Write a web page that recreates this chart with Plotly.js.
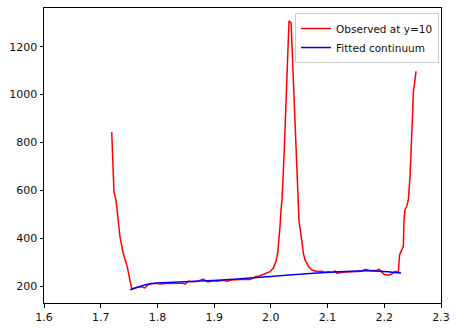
<!DOCTYPE html>
<html>
<head>
<meta charset="utf-8">
<script src="https://cdn.plot.ly/plotly-3.0.1.min.js"></script>
<style>html,body{margin:0;padding:0;background:#fff;}#chart{width:457px;height:329px;}</style>
</head>
<body>
<div id="chart"></div>
<script>
const obsWavelength = [1.7194,1.7234,1.7270,1.7340,1.7398,1.7469,1.7547,1.7605,1.7658,1.7728,1.7781,1.7834,1.7904,1.7975,1.8045,1.8134,1.8222,1.8340,1.8433,1.8486,1.8545,1.8627,1.8716,1.8804,1.8892,1.8980,1.9068,1.9156,1.9227,1.9297,1.9386,1.9456,1.9544,1.9633,1.9721,1.9809,1.9897,1.9985,2.0043,2.0091,2.0121,2.0144,2.0162,2.0179,2.0197,2.0232,2.0267,2.0294,2.0320,2.0356,2.0391,2.0426,2.0461,2.0497,2.0544,2.0572,2.0602,2.0661,2.0720,2.0809,2.0897,2.0955,2.1013,2.1096,2.1131,2.1161,2.1273,2.1396,2.1502,2.1602,2.1660,2.1749,2.1867,2.1907,2.1955,2.2001,2.2071,2.2131,2.2189,2.2248,2.2269,2.2307,2.2336,2.2348,2.2366,2.2396,2.2424,2.2454,2.2484,2.2502,2.2512,2.2560];
const obsFlux = [844,593,558,405,336,279,188,192,196,196,192,205,210,211,208,210,210,209,212,208,220,218,220,229,217,222,220,224,220,225,226,229,228,227,238,243,251,260,275,303,338,394,449,519,561,740,950,1150,1308,1300,1100,850,640,470,394,338,310,282,268,261,262,258,260,257,263,254,258,260,261,262,270,265,265,270,258,248,245,250,261,258,330,352,366,477,519,533,561,658,798,938,1008,1097];
const fitWavelength = [1.7517,1.7690,1.7870,1.8045,1.8400,1.8750,1.9200,1.9630,2.0000,2.0510,2.0990,2.1520,2.1925,2.2296];
const fitFlux = [184,198,209,214,217,221,226,233,240,249,257,263,262,254];
const xTicks = [1.6,1.7,1.8,1.9,2.0,2.1,2.2,2.3];
const yTicks = [200,400,600,800,1000,1200];

const traces = [
  {x: obsWavelength, y: obsFlux, type: 'scatter', mode: 'lines', name: 'Observed at y=10',
   line: {color: '#ff0000', width: 1.5}},
  {x: fitWavelength, y: fitFlux, type: 'scatter', mode: 'lines', name: 'Fitted continuum',
   line: {color: '#0000ff', width: 1.5, shape: 'spline', smoothing: 0.8}}
];

const axisCommon = {
  showline: true, mirror: true, linecolor: '#000', linewidth: 1,
  ticks: 'outside', ticklen: 3.5, tickwidth: 1, tickcolor: '#000',
  showgrid: false, zeroline: false,
  tickfont: {family: 'DejaVu Sans', size: 11, color: '#111'}
};

const layout = {
  width: 457, height: 329,
  margin: {l: 44, r: 16, t: 8, b: 26},
  paper_bgcolor: '#fff', plot_bgcolor: '#fff',
  font: {family: 'DejaVu Sans', size: 11, color: '#111'},
  xaxis: Object.assign({}, axisCommon, {range: [1.6, 2.3], tickvals: xTicks, ticktext: xTicks.map(v => v.toFixed(1))}),
  yaxis: Object.assign({}, axisCommon, {range: [129, 1362], tickvals: yTicks}),
  showlegend: true,
  legend: {x: 0.995, y: 0.983, xanchor: 'right', yanchor: 'top',
    bgcolor: 'rgba(255,255,255,0.8)', bordercolor: '#cccccc', borderwidth: 1,
    font: {family: 'DejaVu Sans', size: 10.5, color: '#111'}, itemwidth: 30, tracegroupgap: 0}
};

Plotly.newPlot('chart', traces, layout, {displayModeBar: false, staticPlot: true});
</script>
</body>
</html>
